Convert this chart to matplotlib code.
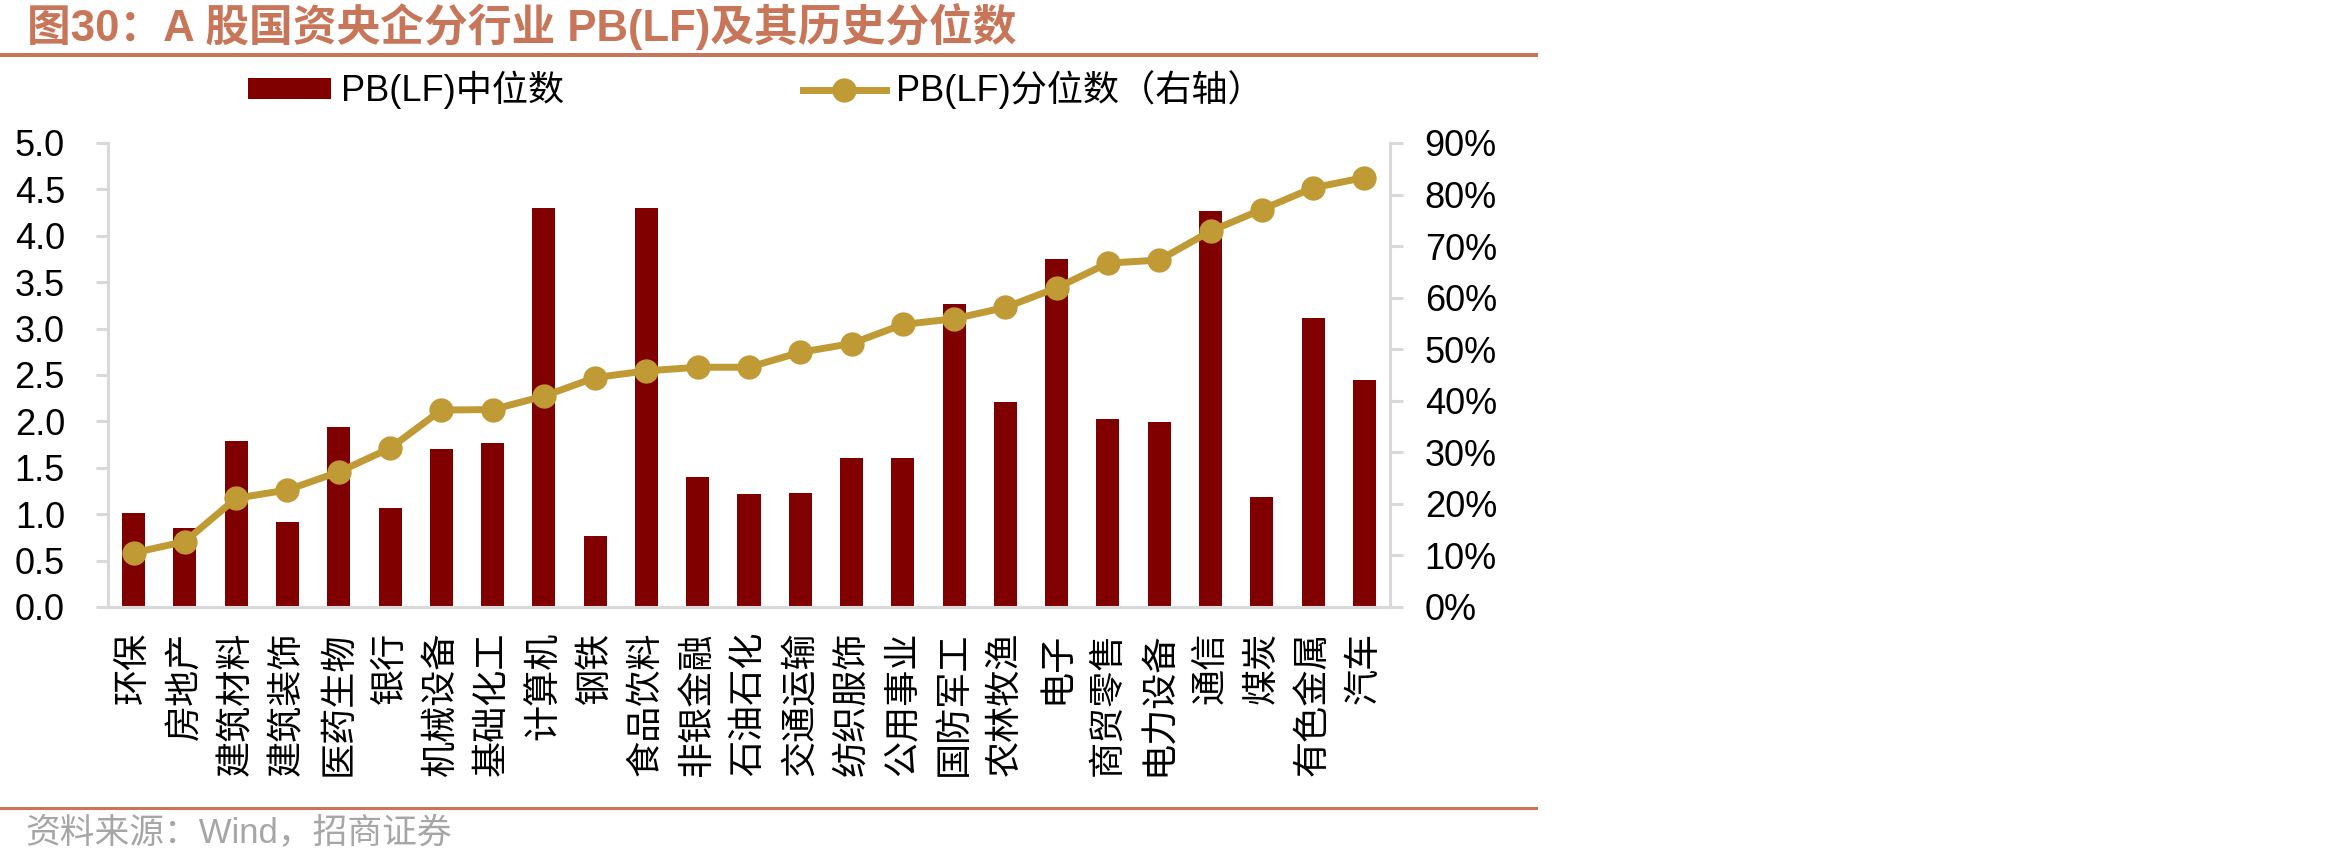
import numpy as np
import matplotlib
matplotlib.use('Agg')
from matplotlib import pyplot as plt
from matplotlib.lines import Line2D
from matplotlib.patches import Patch
from matplotlib.ticker import FuncFormatter, MultipleLocator

plt.rcParams['font.family'] = ['Liberation Sans', 'Noto Sans CJK SC']
plt.rcParams['axes.unicode_minus'] = False

# 行业
industries = ['环保', '房地产', '建筑材料', '建筑装饰', '医药生物', '银行', '机械设备', '基础化工',
              '计算机', '钢铁', '食品饮料', '非银金融', '石油石化', '交通运输', '纺织服饰', '公用事业',
              '国防军工', '农林牧渔', '电子', '商贸零售', '电力设备', '通信', '煤炭', '有色金属', '汽车']
# PB(LF)中位数
pb_median = [1.01, 0.85, 1.79, 0.92, 1.94, 1.07, 1.70, 1.77, 4.30, 0.76, 4.30, 1.40, 1.22,
             1.23, 1.61, 1.61, 3.27, 2.21, 3.75, 2.03, 1.99, 4.27, 1.19, 3.11, 2.45]
# PB(LF)历史分位数
pb_pct = [0.105, 0.127, 0.211, 0.227, 0.262, 0.308, 0.382, 0.383, 0.409, 0.445, 0.458, 0.465, 0.465,
          0.494, 0.511, 0.548, 0.559, 0.581, 0.619, 0.667, 0.673, 0.729, 0.771, 0.813, 0.833]

W, H = 2350, 868
bar_color = '#800000'
line_color = '#C09A34'
title_color = '#C8765A'
grid_gray = '#D9D9D9'

fig = plt.figure(figsize=(W / 100, H / 100), dpi=100)
ax = fig.add_axes([108 / W, (H - 607) / H, (1390 - 108) / W, (607 - 143) / H])

x = np.arange(len(industries))
ax.bar(x, pb_median, width=0.45, color=bar_color, zorder=2)
ax.set_xlim(-0.5, len(industries) - 0.5)
ax.set_ylim(0, 5)
ax.yaxis.set_major_locator(MultipleLocator(0.5))
ax.yaxis.set_major_formatter(FuncFormatter(lambda v, p: '%.1f' % v))
ax.set_xticks(x)
ax.set_xticklabels(industries, rotation=90, va='top', ha='center', fontsize=26)
ax.tick_params(axis='x', length=0, pad=18)
ax.tick_params(axis='y', labelsize=26, length=9, width=2.2, color=grid_gray, pad=22)

ax2 = ax.twinx()
ax2.plot(x, pb_pct, color=line_color, linewidth=5, marker='o', markersize=16.5, zorder=3)
ax2.set_ylim(0, 0.9)
ax2.yaxis.set_major_locator(MultipleLocator(0.1))
ax2.yaxis.set_major_formatter(FuncFormatter(lambda v, p: '%d%%' % round(v * 100)))
ax2.tick_params(axis='y', labelsize=26, length=9, width=2.2, color=grid_gray, pad=16)

for a in (ax, ax2):
    for s in a.spines.values():
        s.set_visible(False)
    a.spines['bottom'].set_visible(True)
    a.spines['bottom'].set_color(grid_gray)
    a.spines['bottom'].set_linewidth(2.2)
ax.spines['left'].set_visible(True)
ax.spines['left'].set_color(grid_gray)
ax.spines['left'].set_linewidth(2.2)
ax2.spines['right'].set_visible(True)
ax2.spines['right'].set_color(grid_gray)
ax2.spines['right'].set_linewidth(2.2)

# 图例
handles = [Patch(facecolor=bar_color, edgecolor='none', label='PB(LF)中位数'),
           Line2D([], [], color=line_color, linewidth=5, marker='o', markersize=16.5,
                  label='PB(LF)分位数（右轴）')]
fig.legend(handles=handles, loc='center left', bbox_to_anchor=(248 / W, 1 - 90 / H),
           ncol=2, frameon=False, fontsize=26, handlelength=2.3, handleheight=0.5,
           handletextpad=0.28, columnspacing=6.6, borderpad=0, borderaxespad=0)

# 标题
fig.text(27 / W, 1 - 27 / H, '图30：A 股国资央企分行业 PB(LF)及其历史分位数',
         fontsize=31.5, fontweight='bold', color=title_color, va='center', ha='left')
fig.add_artist(Line2D([0, 1536 / W], [1 - 55 / H, 1 - 55 / H], color=title_color, linewidth=2.9))
fig.add_artist(Line2D([0, 1536 / W], [1 - 808 / H, 1 - 808 / H], color=title_color, linewidth=2.2))
fig.text(25 / W, 1 - 834 / H, '资料来源：Wind，招商证券', fontsize=25, color='#A6A6A6',
         va='center', ha='left')

fig.savefig('out.png', dpi=100)
